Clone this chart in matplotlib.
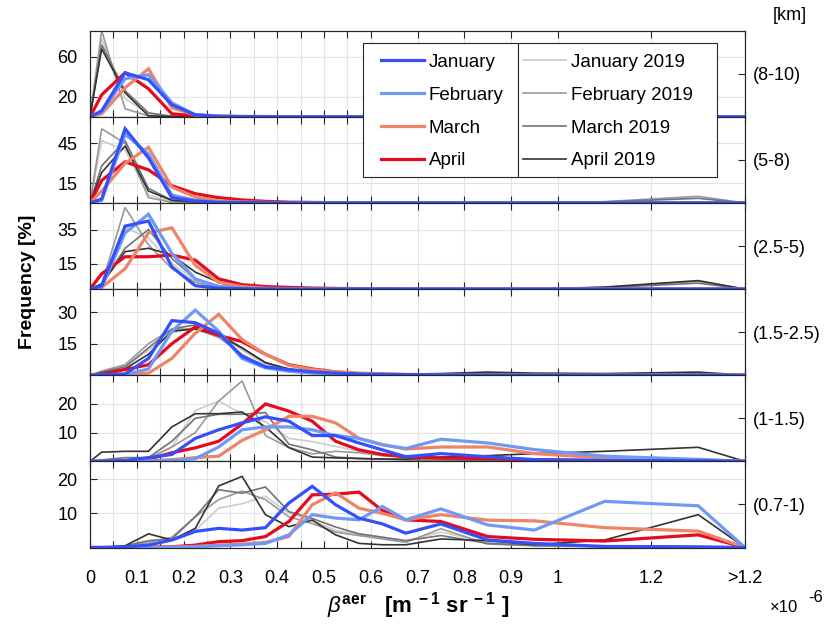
import matplotlib
matplotlib.use('Agg')
import matplotlib.pyplot as plt
from matplotlib.patches import Rectangle
from matplotlib.lines import Line2D

plt.rcParams['font.family'] = ['Liberation Sans', 'DejaVu Sans']
plt.rcParams['mathtext.fontset'] = 'custom'
plt.rcParams['mathtext.rm'] = 'Liberation Sans'
plt.rcParams['mathtext.it'] = 'Liberation Sans:italic'
plt.rcParams['mathtext.bf'] = 'Liberation Sans:bold'

# ---------------- data ----------------
x_centers = [0, 0.025, 0.075, 0.125, 0.175, 0.225, 0.275, 0.325, 0.375, 0.425, 0.475,
             0.525, 0.575, 0.625, 0.675, 0.75, 0.85, 0.95, 1.1, 1.3, 1.4]
xtick_pos = [0, 0.05, 0.1, 0.15, 0.2, 0.25, 0.3, 0.35, 0.4, 0.45, 0.5, 0.55, 0.6,
             0.7, 0.8, 0.9, 1.0, 1.2, 1.4]
xtick_labels = ['0', '', '0.1', '', '0.2', '', '0.3', '', '0.4', '', '0.5', '', '0.6',
                '0.7', '0.8', '0.9', '1', '1.2', '>1.2']

layers = ['(8-10)', '(5-8)', '(2.5-5)', '(1.5-2.5)', '(1-1.5)', '(0.7-1)']
ylims = [86, 65, 50.6, 41, 30, 25.2]
yticks = [[20, 60], [15, 45], [15, 35], [15, 30], [10, 20], [10, 20]]

month_names = ['January', 'February', 'March', 'April']
ref_names = ['January 2019', 'February 2019', 'March 2019', 'April 2019']

# frequency [%] per layer (top to bottom)
january = [
    [0, 6, 44, 37, 12, 2, 0.5, 0.2, 0.1, 0, 0, 0, 0, 0, 0, 0, 0, 0, 0, 0, 0],
    [0, 3, 56, 34, 4, 1.5, 0.5, 0.3, 0.2, 0.1, 0, 0, 0, 0, 0, 0, 0, 0, 0, 0, 0],
    [0, 2, 37, 40, 13, 2, 0.5, 0.2, 0.1, 0, 0, 0, 0, 0, 0, 0, 0, 0, 0, 0, 0],
    [0, 0.3, 0.6, 8, 26, 25, 20, 9, 4, 2.7, 1.6, 1, 0.6, 0.4, 0.3, 0.2, 0.1, 0, 0, 0, 0],
    [0, 0, 0.3, 1.3, 2.4, 8, 11, 13.4, 15.5, 14, 9, 9, 6.4, 4, 1.6, 2.7, 1.6, 0.6, 0.3, 0.2, 0],
    [0, 0, 0.2, 0.7, 2.2, 4.7, 5.6, 5.1, 5.8, 13, 17.9, 12.5, 8.6, 6.9, 4.2, 6.9, 2.2, 1.2, 0.3, 0.2, 0],
]
february = [
    [0, 5, 38, 42, 14, 2, 0.5, 0.2, 0.1, 0, 0, 0, 0, 0, 0, 0, 0, 0, 0, 0, 0],
    [0, 2, 52, 37, 6, 2, 0.6, 0.3, 0.2, 0.1, 0, 0, 0, 0, 0, 0, 0, 0, 0, 0, 0],
    [0, 1, 33, 44, 21, 6, 1.5, 0.5, 0.2, 0.1, 0, 0, 0, 0, 0, 0, 0, 0, 0, 0, 0],
    [0, 0.2, 0.3, 3, 21, 31, 21, 8, 3.5, 2, 1.2, 0.8, 0.5, 0.3, 0.2, 0.1, 0, 0, 0, 0, 0],
    [0, 0, 0, 0.2, 0.3, 0.9, 5, 11, 12, 12, 11, 9, 8, 5.8, 4.5, 7.7, 6.4, 4.1, 1.8, 0.7, 0],
    [0, 0, 0, 0, 0, 0.2, 0.5, 0.8, 1.2, 3.7, 9.6, 8.6, 8.1, 12, 8.1, 11.3, 6.6, 5.1, 13.5, 12.2, 0],
]
march = [
    [0, 3, 29, 48, 9, 2, 1, 0.5, 0.3, 0.2, 0.1, 0, 0, 0, 0, 0, 0, 0, 0, 0, 0],
    [0, 9, 30, 42, 12, 4.5, 1.5, 0.8, 0.4, 0.2, 0.1, 0, 0, 0, 0, 0, 0, 0, 0, 0, 0],
    [0, 1, 12, 33, 36, 14, 4, 1.5, 0.5, 0.3, 0.1, 0, 0, 0, 0, 0, 0, 0, 0, 0, 0],
    [0, 0, 0.2, 1, 8, 20, 29, 17, 10, 4.7, 2.7, 1.6, 1, 0.6, 0.4, 0.2, 0.1, 0, 0, 0, 0],
    [0, 0, 0, 0.2, 0.6, 1.3, 1.8, 7.3, 11, 15.7, 15.7, 13.4, 8, 5.8, 4.3, 5, 5, 2.7, 1.2, 0.5, 0],
    [0, 0, 0, 0, 0.1, 0.3, 0.7, 1, 1.5, 3.2, 12.5, 16, 11.5, 10, 8.1, 9.6, 8, 7.8, 5.8, 4.8, 0],
]
april = [
    [0, 22, 44, 28, 3, 1, 0.3, 0.1, 0, 0, 0, 0, 0, 0, 0, 0, 0, 0, 0, 0, 0],
    [0, 17, 31, 25, 13, 7, 4, 2.3, 1.2, 0.6, 0.4, 0.2, 0.1, 0, 0, 0, 0, 0, 0, 0, 0],
    [0, 9, 19, 19, 20, 17, 6, 2.6, 1.5, 1, 0.6, 0.4, 0.3, 0.2, 0.1, 0.1, 0, 0, 0, 0, 0],
    [0, 0.5, 2.7, 5, 15, 23, 19, 16, 10, 5, 3, 1.6, 0.8, 0.5, 0.3, 0.2, 0.1, 0, 0, 0, 0],
    [0, 0, 0.1, 0.7, 3, 4.7, 7, 13, 20, 17.5, 14, 7, 4, 2.4, 1.6, 1.2, 1, 0.6, 0.3, 0.2, 0],
    [0, 0, 0, 0.1, 0.2, 0.7, 1.7, 2, 3.2, 7.6, 15.4, 15.6, 16.2, 10.8, 8.1, 7.6, 3.2, 2.4, 1.9, 3.7, 0],
]
january_2019 = [
    [0, 78, 18, 3, 0.5, 0, 0, 0, 0, 0, 0, 0, 0, 0, 0, 0, 0, 0, 0, 0, 0],
    [0, 47, 40, 6, 1, 0.5, 0.2, 0, 0, 0, 0, 0, 0, 0, 0, 0, 0, 0, 0, 0, 0],
    [0, 3, 36, 30, 15, 5, 1.5, 0.5, 0.2, 0, 0, 0, 0, 0, 0, 0, 0, 0, 0, 0, 0],
    [0, 1, 4, 12, 20, 23, 20, 12, 5, 2, 1, 0.5, 0.3, 0.2, 0.1, 0, 0, 0, 0, 0, 0],
    [0, 0, 0.2, 0.5, 5, 17.7, 21, 16.6, 13.8, 8, 6.9, 5.2, 3.5, 2, 1.5, 1, 0.7, 0.4, 0.2, 0.1, 0],
    [0, 0, 0.2, 1, 2, 5, 11.5, 12.8, 15, 10, 8, 5, 4, 3, 2, 4.5, 1.5, 0.5, 0.2, 0.1, 0],
]
february_2019 = [
    [0, 86, 8, 1, 0, 0, 0, 0, 0, 0, 0, 0, 0, 0, 0, 0, 0, 0, 0, 0, 0],
    [0, 56, 45, 4, 0.5, 0.2, 0, 0, 0, 0, 0, 0, 0, 0, 0, 0, 0, 0, 1, 5, 0],
    [0, 3, 48, 26, 12, 4, 1, 0.3, 0, 0, 0, 0, 0, 0, 0, 0, 0, 0, 1, 4.6, 0],
    [0, 2, 5, 15, 22, 22, 18, 10, 4, 1.5, 0.8, 0.5, 0.3, 0.2, 0.1, 0, 0, 0, 0, 0, 0],
    [0, 0, 0.3, 1, 5, 10, 21, 28, 9, 4.8, 2.6, 3.5, 3, 2, 1.5, 1, 0.6, 0.3, 0.2, 0.1, 0],
    [0, 0, 0.3, 1.5, 3, 9, 14, 16.5, 14, 9, 7, 4.5, 3.5, 2.5, 1.5, 5.5, 1, 0.5, 0.2, 0.1, 0],
]
march_2019 = [
    [0, 72, 26, 4, 0.5, 0, 0, 0, 0, 0, 0, 0, 0, 0, 0, 0, 0, 0, 0, 0, 0],
    [0, 28, 47, 11, 2, 0.5, 0.2, 0, 0, 0, 0, 0, 0, 0, 0, 0, 0, 0, 0.8, 3.5, 0],
    [0, 3, 24, 35, 18, 6, 2, 1, 0.3, 0, 0, 0, 0, 0, 0, 0, 0, 0, 0.8, 3.5, 0],
    [0, 1.5, 4, 13, 22, 24, 20, 13, 6, 2.5, 1.2, 0.5, 0.3, 0.2, 0.1, 0.1, 0.1, 0.1, 0.2, 0.5, 0],
    [0, 0.5, 1.3, 1.3, 7, 15, 16.4, 16.4, 17, 6, 4, 1.5, 1, 0.8, 0.5, 0.5, 0.3, 0.2, 0.1, 0.1, 0],
    [0, 0, 0.5, 2, 2.5, 9, 16.9, 15.9, 17.7, 10.5, 8.5, 6, 4, 3, 2, 3.5, 1.2, 0.6, 0.3, 0.2, 0],
]
april_2019 = [
    [0, 68, 24, 1, 0.3, 0, 0, 0, 0, 0, 0, 0, 0, 0, 0, 0, 0, 0, 0, 0, 0],
    [0, 23, 43, 9, 2, 1, 0.3, 0, 0, 0, 0, 0, 0, 0, 0, 0, 0, 0, 0, 0, 0],
    [0, 3, 22, 24, 20, 10, 4, 2, 1, 0.5, 0.2, 0, 0, 0, 0, 0, 0, 0, 1.2, 5, 0],
    [0, 1, 3, 10, 21, 22, 19, 13, 6, 3, 1.5, 1, 0.8, 0.6, 0.5, 0.8, 1.5, 1, 0.8, 1.5, 0],
    [0, 3.2, 3.5, 3.5, 12, 16.6, 16.6, 17.2, 12, 4.8, 1.5, 1.2, 1, 0.8, 0.8, 1.5, 2, 2.7, 3.5, 4.9, 0],
    [0, 0, 0.5, 4, 2.2, 5.6, 18, 20.8, 9.6, 6.1, 8, 3.7, 1.2, 0.8, 0.8, 2.5, 2, 0.8, 2.2, 9.6, 0],
]

month_series = [january, february, march, april]
ref_series = [january_2019, february_2019, march_2019, april_2019]
month_colors = ['#3350FA', '#7099F5', '#EE8468', '#E50A1E']
ref_colors = ['#CCCCCC', '#999999', '#737373', '#333333']

# ---------------- figure ----------------
W, H = 838, 628
fig = plt.figure(figsize=(W / 100, H / 100), dpi=100)

ax_left = 90 / W
ax_w = 655 / W
top_px = 30.7
panel_h_px = (547.5 - 30.7) / 6
spine_c = '#262626'

axes = []
for i in range(6):
    y_top = top_px + i * panel_h_px
    ax = fig.add_axes([ax_left, 1 - (y_top + panel_h_px) / H, ax_w, panel_h_px / H])
    axes.append(ax)
    for s, c in zip(ref_series, ref_colors):
        ax.plot(x_centers, s[i], color=c, lw=1.2, zorder=2, solid_joinstyle='miter')
    for s, c in zip(month_series[::-1], month_colors[::-1]):
        ax.plot(x_centers, s[i], color=c, lw=2.3, zorder=3, solid_joinstyle='miter')
    ax.set_xlim(0, 1.4)
    ax.set_ylim(0, ylims[i])
    ax.set_xticks(xtick_pos)
    ax.set_yticks(yticks[i])
    ax.set_yticklabels([str(v) for v in yticks[i]], fontsize=13)
    if i == 5:
        ax.set_xticklabels(xtick_labels, fontsize=13)
    else:
        ax.set_xticklabels([])
    ax.tick_params(axis='x', direction='in', top=True, bottom=True, length=5,
                   width=0.8, color=spine_c, pad=16)
    ax.tick_params(axis='y', direction='in', left=True, right=False, length=5,
                   width=0.8, color=spine_c, pad=9)
    ax.grid(True, color='#e3e3e3', lw=0.8)
    ax.set_axisbelow(True)
    for sp in ax.spines.values():
        sp.set_color(spine_c)
        sp.set_linewidth(0.8)
    ax2 = ax.twinx()
    ax2.set_ylim(0, ylims[i])
    ax2.set_yticks([ylims[i] / 2])
    ax2.set_yticklabels([layers[i]], fontsize=13)
    ax2.tick_params(axis='y', direction='in', length=5, width=0.8, color=spine_c, pad=6)
    for sp in ax2.spines.values():
        sp.set_color(spine_c)
        sp.set_linewidth(0.8)

# legend frames
def fig_rect(x0, y0, x1, y1):
    r = Rectangle((x0 / W, 1 - y1 / H), (x1 - x0) / W, (y1 - y0) / H,
                  transform=fig.transFigure, facecolor='white', edgecolor=spine_c,
                  lw=0.8, zorder=1)
    fig.add_artist(r)

fig_rect(362.7, 43.3, 518.3, 176.7)
fig_rect(518.3, 43.3, 716.7, 176.7)

month_handles = [Line2D([], [], color=c, lw=2.3) for c in month_colors]
ref_handles = [Line2D([], [], color=c, lw=1.2) for c in ref_colors]
leg_kw = dict(loc='upper left', frameon=False, borderpad=0, borderaxespad=0,
              handlelength=2.3, handletextpad=0.27, labelspacing=0.84, fontsize=13.5)
fig.legend(month_handles, month_names, bbox_to_anchor=(380.7 / W, 1 - 53.7 / H), **leg_kw)
fig.legend(ref_handles, ref_names, bbox_to_anchor=(523 / W, 1 - 53.7 / H), **leg_kw)

# labels
fig.text(28 / W, 1 - 282 / H, 'Frequency [%]', rotation=90, fontsize=14,
         fontweight='bold', ha='center', va='center')
fig.text(418 / W, 1 - 606 / H,
         r'$\beta^{\mathbf{aer}}\ \ \ \mathbf{[m^{\ -1}\ sr^{\ -1}\ ]}$',
         fontsize=16, ha='center', va='center')
fig.text(770 / W, 1 - 607 / H, '×10', fontsize=12, ha='left', va='center')
fig.text(808 / W, 1 - 597 / H, '-6', fontsize=12, ha='left', va='center')
fig.text(790 / W, 1 - 16 / H, '[km]', fontsize=13, ha='center', va='center')

fig.savefig('out.png', dpi=100)
